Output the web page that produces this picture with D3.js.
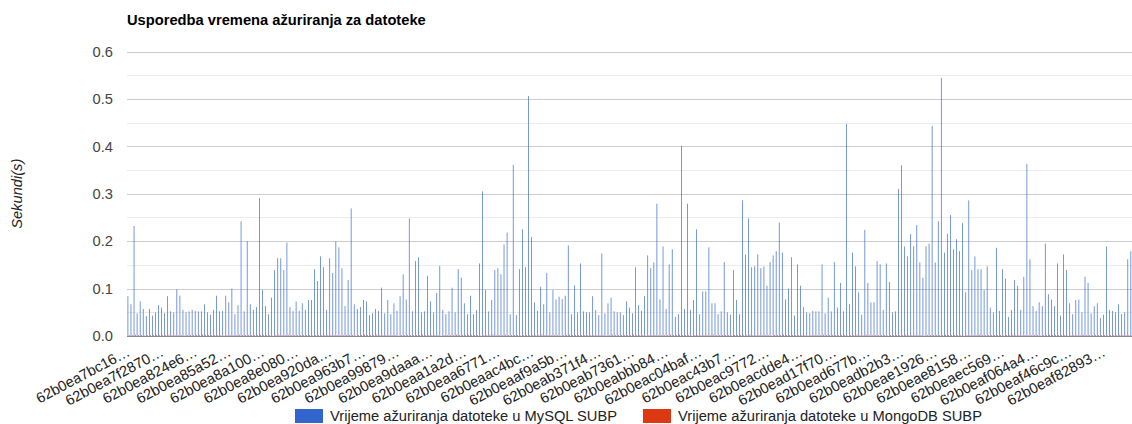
<!DOCTYPE html>
<html>
<head>
<meta charset="utf-8">
<script src="https://cdn.jsdelivr.net/npm/d3@7"></script>
<style>
  body { margin: 0; background: #fff; }
  svg { display: block; font-family: Arial, "Liberation Sans", sans-serif; }
</style>
</head>
<body>
<svg></svg>
<script>
/* globals d3 */

const width = 1132;
const height = 424;
const fontSize = 14.7;

const title = "Usporedba vremena ažuriranja za datoteke";
const yTitle = "Sekundi(s)";
const seriesNames = [
  "Vrijeme ažuriranja datoteke u MySQL SUBP",
  "Vrijeme ažuriranja datoteke u MongoDB SUBP"
];
const seriesColors = ["#3366cc", "#dc3912"];

// update time in seconds, one value per file (MySQL)
const mysqlTimes = [
  0.084, 0.067, 0.232, 0.048, 0.073, 0.057, 0.042, 0.057, 0.043, 0.05,
  0.065, 0.06, 0.048, 0.084, 0.052, 0.05, 0.098, 0.085, 0.055, 0.05,
  0.052, 0.055, 0.053, 0.052, 0.052, 0.067, 0.05, 0.045, 0.055, 0.085,
  0.052, 0.053, 0.085, 0.071, 0.1, 0.046, 0.065, 0.242, 0.052, 0.2,
  0.067, 0.055, 0.061, 0.291, 0.097, 0.063, 0.046, 0.081, 0.139, 0.164,
  0.164, 0.139, 0.197, 0.061, 0.053, 0.073, 0.053, 0.069, 0.055, 0.076,
  0.076, 0.141, 0.116, 0.168, 0.145, 0.055, 0.164, 0.133, 0.2, 0.187,
  0.143, 0.063, 0.118, 0.269, 0.067, 0.057, 0.061, 0.076, 0.073, 0.044,
  0.048, 0.057, 0.053, 0.102, 0.048, 0.076, 0.046, 0.069, 0.053, 0.084,
  0.13, 0.077, 0.248, 0.052, 0.158, 0.166, 0.05, 0.052, 0.127, 0.073,
  0.05, 0.091, 0.148, 0.055, 0.046, 0.052,
  0.102, 0.05, 0.141, 0.123, 0.069,
  0.046, 0.085, 0.046, 0.055, 0.153, 0.305, 0.097, 0.052, 0.076, 0.139,
  0.143, 0.13, 0.193, 0.218, 0.046, 0.361, 0.044, 0.141, 0.225, 0.145,
  0.506, 0.209, 0.071, 0.053, 0.104, 0.067, 0.133, 0.05, 0.097, 0.077,
  0.083, 0.078, 0.085, 0.191, 0.046, 0.107, 0.05, 0.153, 0.052, 0.05,
  0.05, 0.084, 0.055, 0.044, 0.174, 0.048, 0.069, 0.081, 0.052, 0.05,
  0.05, 0.044, 0.073, 0.06,
  0.048, 0.145, 0.065, 0.053, 0.084, 0.17, 0.143, 0.155, 0.279,
  0.077, 0.189, 0.057, 0.151, 0.183, 0.04, 0.046, 0.401, 0.057, 0.279,
  0.055, 0.076, 0.225, 0.046, 0.094, 0.094, 0.187, 0.069, 0.069, 0.046,
  0.052, 0.156, 0.05, 0.045, 0.139, 0.076, 0.046, 0.286, 0.172, 0.248,
  0.145, 0.147, 0.172, 0.143, 0.147, 0.106, 0.156, 0.17, 0.179, 0.239,
  0.176, 0.077, 0.1, 0.166, 0.043, 0.151, 0.106, 0.061, 0.05, 0.048,
  0.053, 0.052, 0.052, 0.151, 0.048, 0.081, 0.052, 0.156, 0.06, 0.112,
  0.052, 0.447, 0.067, 0.176, 0.147, 0.092, 0.045, 0.224, 0.112, 0.071,
  0.071, 0.158, 0.151, 0.055, 0.153, 0.114, 0.05, 0.052, 0.31, 0.36,
  0.189, 0.168, 0.215, 0.189, 0.234, 0.155, 0.123, 0.189, 0.195, 0.443,
  0.155, 0.242, 0.544, 0.176, 0.216, 0.255, 0.183, 0.204, 0.179, 0.238,
  0.092, 0.286, 0.139, 0.168, 0.141, 0.141, 0.097, 0.147, 0.06, 0.05,
  0.186, 0.053, 0.141, 0.121, 0.04, 0.055, 0.118, 0.106, 0.055, 0.125,
  0.363, 0.162, 0.063, 0.053, 0.071, 0.063, 0.195, 0.088, 0.077, 0.063,
  0.153, 0.043, 0.172, 0.139, 0.069, 0.046, 0.076, 0.077, 0.05, 0.125,
  0.112, 0.048, 0.063, 0.069, 0.038, 0.045, 0.189, 0.055, 0.053, 0.05,
  0.067, 0.046, 0.05, 0.162, 0.179
];

// MongoDB update time in milliseconds (barely above zero)
const mongoMs = [
  2, 2, 3, 2, 2, 1, 2, 2, 2, 2, 2, 2, 2, 3, 2, 2, 2, 2, 1, 2,
  2, 2, 2, 2, 3, 2, 2, 2, 2, 2, 2, 1, 2, 2, 2, 2, 3, 2, 2, 2,
  2, 2, 2, 2, 2, 2, 2, 1, 2, 3, 2, 2, 3, 2, 2, 2, 2, 2, 2, 2,
  1, 2, 2, 2, 2, 3, 2, 2, 2, 2, 2, 2, 2, 2, 1, 2, 2, 3, 2, 2,
  2, 3, 2, 2, 2, 2, 2, 2, 1, 2, 2, 2, 2, 2, 2, 2, 3, 2, 2, 2,
  2, 2, 1, 2, 2, 2, 2, 3, 2, 2, 2, 2, 2, 2, 2, 1, 2, 2, 2, 3,
  2, 2, 2, 3, 2, 2, 2, 2, 1, 2, 2, 2, 2, 2, 2, 3, 2, 2, 2, 2,
  2, 1, 2, 2, 3, 2, 2, 2, 2, 2, 2, 2, 2, 2, 2, 2, 1, 2, 3, 2,
  2, 2, 2, 2, 2, 3, 2, 2, 2, 1, 2, 2, 2, 2, 2, 2, 2, 3, 2, 2,
  3, 2, 2, 2, 1, 2, 2, 2, 2, 2, 2, 3, 2, 2, 2, 2, 2, 1, 2, 2,
  2, 2, 2, 3, 2, 2, 2, 2, 2, 2, 1, 2, 2, 2, 3, 2, 2, 2, 2, 2,
  2, 2, 1, 2, 2, 2, 2, 3, 2, 2, 2, 2, 2, 2, 2, 1, 2, 2, 3, 2,
  2, 3, 2, 2, 2, 2, 2, 2, 1, 2, 2, 2, 2, 2, 3, 2, 2, 2, 2, 2,
  1, 2, 2, 2, 2, 2, 2, 3, 2, 2, 2, 2, 2, 1, 2, 2, 2, 2, 3, 2,
  2, 2, 2, 2, 2, 2, 1, 2, 2, 3, 2, 2, 2, 2, 2, 2, 2, 2, 1, 2,
  2, 3, 2, 2, 2, 2, 2, 1, 2, 2, 2, 2, 3, 2, 2, 2, 2, 2, 2, 2,
  1, 2, 2, 2, 3, 2, 2, 2, 2
];

// only every 11th file id is shown on the axis
const tickLabels = [
  "62b0ea7bc16…", "62b0ea7f2870…", "62b0ea824e6…", "62b0ea85a52…", "62b0ea8a100…",
  "62b0ea8e080…", "62b0ea920da…", "62b0ea963b7…", "62b0ea99879…", "62b0ea9daaa…",
  "62b0eaa1a2d…", "62b0eaa6771…", "62b0eaac4bc…", "62b0eaaf9a5b…", "62b0eab371f4…",
  "62b0eab7361…", "62b0eabbb84…", "62b0eac04baf…", "62b0eac43b7…", "62b0eac9772…",
  "62b0eacdde4…", "62b0ead17f70…", "62b0ead677b…", "62b0eadb2b3…", "62b0eae1926…",
  "62b0eae8158…", "62b0eaec569…", "62b0eaf064a4…", "62b0eaf46c9c…", "62b0eaf82893…"
];
const labelEvery = 11;
const yTicks = [0, 0.1, 0.2, 0.3, 0.4, 0.5, 0.6];

const marginLeft = 127;
const plotRight = 1133;
const plotTop = 51.5;
const plotBottom = 336;

const files = d3.range(mysqlTimes.length);
const rows = files.map(i => ({
  i,
  values: [mysqlTimes[i], mongoMs[i] / 1000]
}));

const x = d3.scaleBand(files, [marginLeft, plotRight]);
const groupWidth = x.step() * 0.618;
const xSeries = d3.scaleBand([0, 1], [0, groupWidth]).paddingInner(0.45);
const y = d3.scaleLinear([0, 0.6], [plotBottom, plotTop]);

const svg = d3.select("svg")
    .attr("width", width)
    .attr("height", height)
    .attr("viewBox", [0, 0, width, height]);

// title
svg.append("text")
    .attr("x", marginLeft)
    .attr("y", 25)
    .attr("font-size", fontSize)
    .attr("font-weight", "bold")
    .attr("fill", "#000")
    .text(title);

// gridlines (minor ones between the labelled ticks)
const minor = d3.pairs(yTicks).map(([a, b]) => (a + b) / 2);
svg.append("g")
  .selectAll("line.minor")
  .data(minor)
  .join("line")
    .attr("x1", marginLeft)
    .attr("x2", width)
    .attr("y1", d => Math.round(y(d)) + 0.5)
    .attr("y2", d => Math.round(y(d)) + 0.5)
    .attr("stroke", "#ebebeb");

svg.append("g")
  .selectAll("line.major")
  .data(yTicks.slice(1))
  .join("line")
    .attr("x1", marginLeft)
    .attr("x2", width)
    .attr("y1", d => Math.round(y(d)) + 0.5)
    .attr("y2", d => Math.round(y(d)) + 0.5)
    .attr("stroke", "#cccccc");

// y axis labels
const yAxis = d3.axisLeft(y).tickValues(yTicks).tickFormat(d3.format(".1f")).tickSize(0).tickPadding(14);
svg.append("g")
    .attr("transform", `translate(${marginLeft},0)`)
    .call(yAxis)
    .call(g => g.select(".domain").remove())
    .call(g => g.selectAll("text")
        .attr("font-size", fontSize)
        .attr("font-family", "Arial, 'Liberation Sans', sans-serif")
        .attr("fill", "#444"));

svg.append("text")
    .attr("transform", `translate(22,${(plotTop + plotBottom) / 2}) rotate(-90)`)
    .attr("text-anchor", "middle")
    .attr("font-size", fontSize)
    .attr("font-style", "italic")
    .attr("fill", "#222")
    .text(yTitle);

// bars
svg.append("g")
  .selectAll("g")
  .data(rows)
  .join("g")
    .attr("transform", d => `translate(${x(d.i) + (x.step() - groupWidth) / 2},0)`)
  .selectAll("rect")
  .data(d => d.values)
  .join("rect")
    .attr("x", (v, k) => xSeries(k))
    .attr("width", xSeries.bandwidth())
    .attr("y", v => y(v))
    .attr("height", v => y(0) - y(v))
    .attr("fill", (v, k) => seriesColors[k]);

// baseline
svg.append("line")
    .attr("x1", marginLeft)
    .attr("x2", width)
    .attr("y1", Math.round(y(0)) + 0.5)
    .attr("y2", Math.round(y(0)) + 0.5)
    .attr("stroke", "#888");

// slanted category labels
const angle = 28;
svg.append("g")
    .attr("font-size", fontSize)
    .attr("fill", "#222")
  .selectAll("text")
  .data(tickLabels)
  .join("text")
    .attr("text-anchor", "end")
    .attr("transform", (t, j) => {
      const cx = x(j * labelEvery) + x.bandwidth() / 2 + 2.5;
      return `translate(${cx},355) rotate(${-angle})`;
    })
    .text(t => t);

// legend
const legend = svg.append("g")
    .attr("font-size", fontSize)
    .attr("fill", "#222");
const legendX = [295, 643];
legend.selectAll("rect")
  .data(seriesNames)
  .join("rect")
    .attr("x", (s, k) => legendX[k])
    .attr("y", 409)
    .attr("width", 28)
    .attr("height", 14)
    .attr("fill", (s, k) => seriesColors[k]);
legend.selectAll("text")
  .data(seriesNames)
  .join("text")
    .attr("x", (s, k) => legendX[k] + 35)
    .attr("y", 421)
    .text(s => s);
</script>
</body>
</html>
